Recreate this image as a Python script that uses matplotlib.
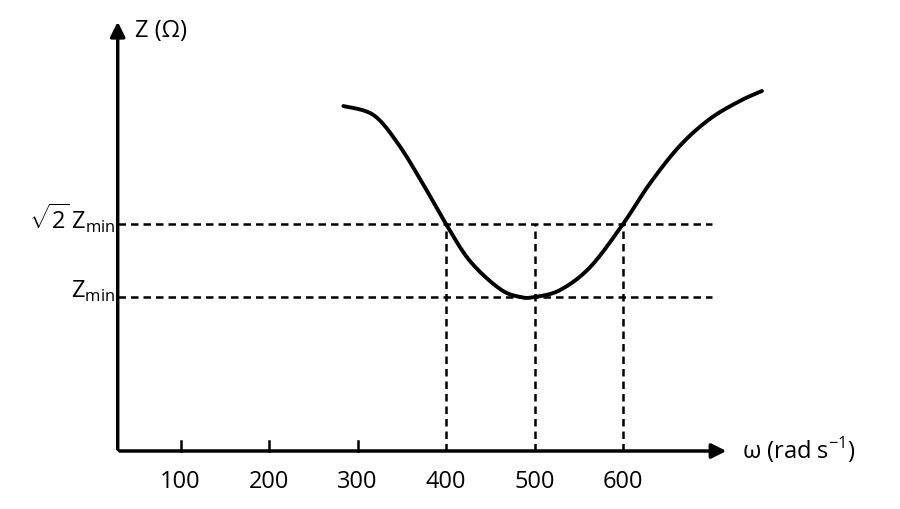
import matplotlib
matplotlib.use("Agg")
import matplotlib.pyplot as plt
import numpy as np

plt.rcParams['font.family'] = ['Open Sans', 'DejaVu Sans']
plt.rcParams['mathtext.fontset'] = 'custom'
plt.rcParams['mathtext.rm'] = 'Open Sans'

# curve: omega (rad/s) vs Z (arbitrary units, axis = 0)
omega = [284, 318, 346, 374, 400, 427, 461, 484, 500, 529, 563, 600, 630, 664, 698, 732, 757]
z = [345, 336, 307, 267, 227, 190, 162, 154, 154, 161, 184, 227, 267, 305, 332, 350, 360]
tick_vals = [100, 200, 300, 400, 500, 600]
z_min = 154
z_root2 = 227
marks = [400, 500, 600]

x0 = 29      # omega at the y axis
x_end = 720  # omega at x arrow tip
y_top = 432


def smooth(xs, ys, n=20):
    # catmull-rom pass through the read points, just for a round line
    p = np.column_stack([xs, ys]).astype(float)
    p = np.vstack([p[0], p, p[-1]])
    out = []
    t = np.linspace(0, 1, n, endpoint=False)[:, None]
    for i in range(1, len(p) - 2):
        a, b, c, d = p[i - 1], p[i], p[i + 1], p[i + 2]
        out.append(0.5 * (2 * b + (-a + c) * t + (2 * a - 5 * b + 4 * c - d) * t**2
                          + (-a + 3 * b - 3 * c + d) * t**3))
    out.append(p[-2][None, :])
    out = np.vstack(out)
    return out[:, 0], out[:, 1]


fig = plt.figure(figsize=(9, 5.1), dpi=100)
ax = fig.add_axes([0, 0, 1, 1])
ax.set_xlim(-104, 913)
ax.set_ylim(-58, 452)
ax.axis('off')

arrow = dict(arrowstyle='-|>', lw=2.5, color='black', mutation_scale=22)
ax.annotate('', xy=(x_end, 0), xytext=(x0 - 1, 0), arrowprops=arrow)
ax.annotate('', xy=(x0, y_top), xytext=(x0, -1), arrowprops=arrow)

sx, sy = smooth(omega, z)
ax.plot(sx, sy, color='black', lw=2.8, solid_capstyle='round')

dash = dict(color='black', lw=1.8, ls=(0, (3, 2)))
ax.plot([x0, 700], [z_min, z_min], **dash)
ax.plot([x0, 700], [z_root2, z_root2], **dash)
for m in marks:
    ax.plot([m, m], [0, z_root2], **dash)
for t in tick_vals:
    if t not in marks:
        ax.plot([t, t], [0, 10], color='black', lw=1.8)
    ax.text(t, -18, str(t), ha='center', va='top', fontsize=17)

ax.text(x0 + 20, 421, 'Z (Ω)', ha='left', va='center', fontsize=17)
ax.text(x_end + 14, 2, 'ω (rad s$^{-1}$)', ha='left', va='center', fontsize=17)
ax.text(x0 - 3, z_min + 7, r'Z$_{\mathrm{min}}$', ha='right', va='center', fontsize=17)
ax.text(x0 - 3, z_root2 + 7, r'$\sqrt{2}\,$Z$_{\mathrm{min}}$', ha='right', va='center', fontsize=17)

fig.savefig('out.png', dpi=100)
